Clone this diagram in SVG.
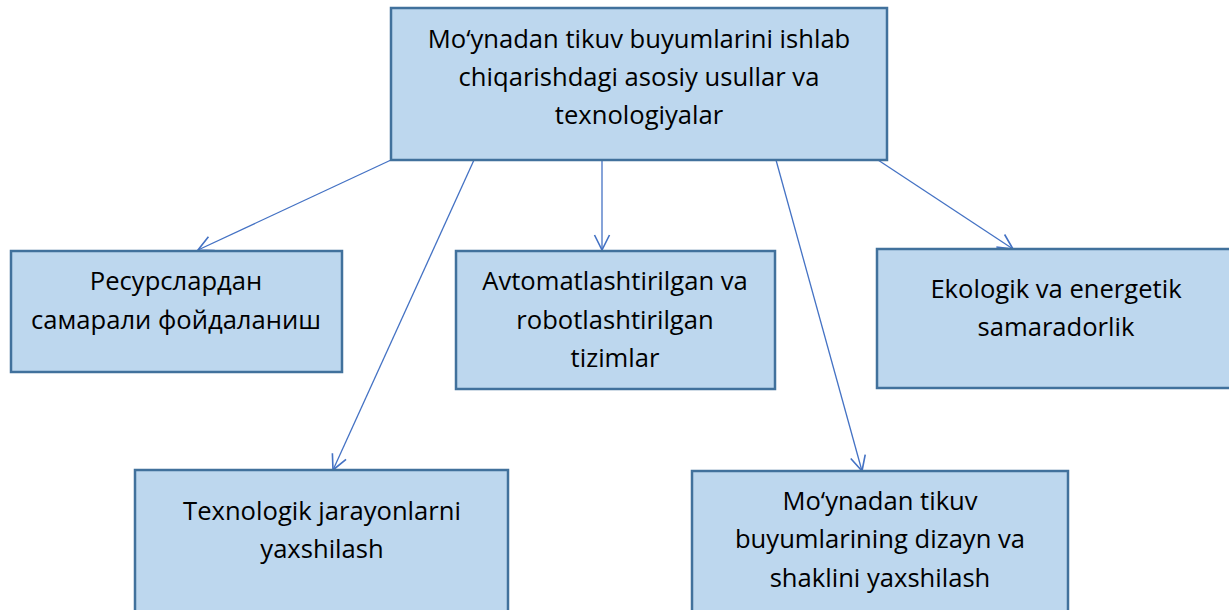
<svg xmlns="http://www.w3.org/2000/svg" width="1229" height="610" viewBox="0 0 1229 610">
<style>
.box{fill:#BDD7EE;stroke:#41719C;stroke-width:2.5}
.t{font-family:"Open Sans","Liberation Sans",sans-serif;font-size:25.6px;fill:#000;text-anchor:middle}
.c{stroke:#4472C4;stroke-width:1.3;fill:none}
</style>
<defs>
<marker id="ah" markerUnits="userSpaceOnUse" markerWidth="20" markerHeight="20" refX="0" refY="0" viewBox="-14 -8 16 16" orient="auto">
<path d="M-12,-6 L0,0 L-12,6" fill="none" stroke="#4472C4" stroke-width="1.3"/>
</marker>
</defs>
<g id="connectors">
<line class="c" x1="391" y1="160" x2="198" y2="250" marker-end="url(#ah)"/>
<line class="c" x1="474" y1="160" x2="333" y2="470" marker-end="url(#ah)"/>
<line class="c" x1="602" y1="160" x2="602" y2="250" marker-end="url(#ah)"/>
<line class="c" x1="776" y1="160" x2="862" y2="471" marker-end="url(#ah)"/>
<line class="c" x1="878" y1="160" x2="1013" y2="249" marker-end="url(#ah)"/>
</g>
<g id="main">
<rect class="box" x="391" y="8" width="496" height="152"/>
<text class="t" x="639" y="48">Mo‘ynadan tikuv buyumlarini ishlab</text>
<text class="t" x="639" y="86">chiqarishdagi asosiy usullar va</text>
<text class="t" x="639" y="124">texnologiyalar</text>
</g>
<g id="n1">
<rect class="box" x="11" y="251" width="331" height="121"/>
<text class="t" x="176" y="290">Ресурслардан</text>
<text class="t" x="176" y="329">самарали фойдаланиш</text>
</g>
<g id="n2">
<rect class="box" x="456" y="251" width="319" height="138"/>
<text class="t" x="615" y="290">Avtomatlashtirilgan va</text>
<text class="t" x="615" y="329">robotlashtirilgan</text>
<text class="t" x="615" y="367">tizimlar</text>
</g>
<g id="n3">
<rect class="box" x="877" y="249" width="356" height="139"/>
<text class="t" x="1056" y="298">Ekologik va energetik</text>
<text class="t" x="1056" y="336">samaradorlik</text>
</g>
<g id="n4">
<rect class="box" x="135" y="470" width="373" height="150"/>
<text class="t" x="322" y="520">Texnologik jarayonlarni</text>
<text class="t" x="322" y="558">yaxshilash</text>
</g>
<g id="n5">
<rect class="box" x="692" y="471" width="376" height="150"/>
<text class="t" x="880" y="510">Mo‘ynadan tikuv</text>
<text class="t" x="880" y="548">buyumlarining dizayn va</text>
<text class="t" x="880" y="587">shaklini yaxshilash</text>
</g>
</svg>
